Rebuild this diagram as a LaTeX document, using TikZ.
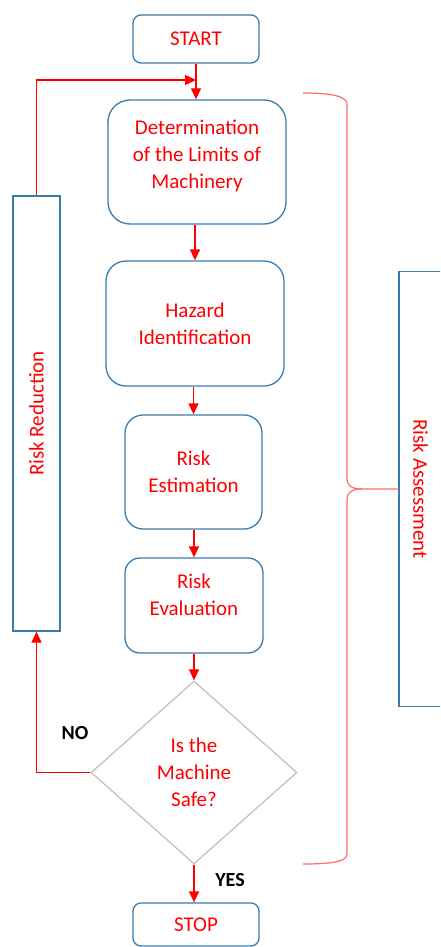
\documentclass[tikz,border=0pt]{standalone}
\usepackage{fontspec}
\setmainfont{Carlito}
\usetikzlibrary{arrows.meta,shapes.geometric}
\definecolor{boxblue}{HTML}{3A7DAD}
\definecolor{txtred}{HTML}{FF0000}
\definecolor{bracered}{HTML}{FF6B6B}
\definecolor{diagray}{HTML}{BFBFBF}
% text block raised inside its box
\newcommand{\liftedtext}[2]{\raisebox{#1}[\height][\depth]{\begin{tabular}{@{}c@{}}#2\end{tabular}}}

\tikzset{
  procbox/.style={draw=boxblue, line width=1.3pt, text=txtred, align=center,
    rounded corners=#1, inner sep=0pt, font=\fontsize{21}{27}\selectfont},
  sidebox/.style={draw=boxblue, line width=1.3pt, text=txtred, inner sep=0pt,
    font=\fontsize{21}{27}\selectfont},
  decision/.style={diamond, draw=diagray, line width=1.2pt, text=txtred, align=center,
    inner sep=0pt, font=\fontsize{21}{27}\selectfont},
  arr/.style={draw=red, line width=1.3pt, -{Triangle[length=11pt,width=10pt]}},
  answer/.style={font=\fontsize{20}{24}\selectfont\bfseries, text=black},
  brace/.style={draw=bracered, line width=1.2pt}
}

\begin{document}
\begin{tikzpicture}[x=1pt,y=-1pt]
\useasboundingbox (0,0) rectangle (440,947);
\clip (0,0) rectangle (440,947);
% main flow
\node[procbox=8pt, minimum width=126pt, minimum height=48pt] (start) at (196,39) {START};
\node[procbox=22pt, minimum width=178pt, minimum height=124pt] (determ) at (197,162)
  {\liftedtext{6pt}{Determination\\of the Limits of\\Machinery}};
\node[procbox=20pt, minimum width=178pt, minimum height=125pt] (hazard) at (195,323.5)
  {Hazard\\Identification};
\node[procbox=18pt, minimum width=137pt, minimum height=114pt] (estim) at (193.5,472)
  {Risk\\Estimation};
\node[procbox=15pt, minimum width=138pt, minimum height=95pt] (evalu) at (194,605.5)
  {\liftedtext{9pt}{Risk\\Evaluation}};
\node[decision, minimum width=206pt, minimum height=183pt] (safe) at (194,772.5)
  {Is the\\Machine\\Safe?};
\node[procbox=8pt, minimum width=126pt, minimum height=43pt] (stop) at (196,924.5) {STOP};
% side boxes
\node[sidebox, rotate=90, minimum width=435pt, minimum height=47pt] (reduce) at (36.5,413.5)
  {Risk Reduction};
\node[sidebox, rotate=-90, minimum width=435pt, minimum height=43pt] (assess) at (420.5,489)
  {Risk Assessment};
\coordinate (join) at (196,80);
% connectors
\draw[arr] (start.south) -- (start.south |- determ.north);
\draw[arr] (determ.south -| hazard.north) -- (hazard.north);
\draw[arr] (hazard.south -| estim.north) -- (estim.north);
\draw[arr] (estim.south -| evalu.north) -- (evalu.north);
\draw[arr] (evalu.south -| safe.north) -- (safe.north);
\draw[arr] (safe.south) -- (safe.south |- stop.north);
\draw[arr] (safe.west) -| (reduce.west);
\draw[arr] (reduce.east) |- (join);
\node[answer] (no) at (75,733) {NO};
\node[answer] (yes) at (230,880) {YES};
% brace round the assessment steps
\draw[brace] (303,93) .. controls (330,93) and (347,96) .. (347,104) -- (347,478)
  .. controls (347,486) and (352,489) .. (362,489) -- (assess.south);
\draw[brace] (362,489) .. controls (352,489) and (347,492) .. (347,500) -- (347,854)
  .. controls (347,862) and (330,864) .. (303,864);
\end{tikzpicture}
\end{document}
